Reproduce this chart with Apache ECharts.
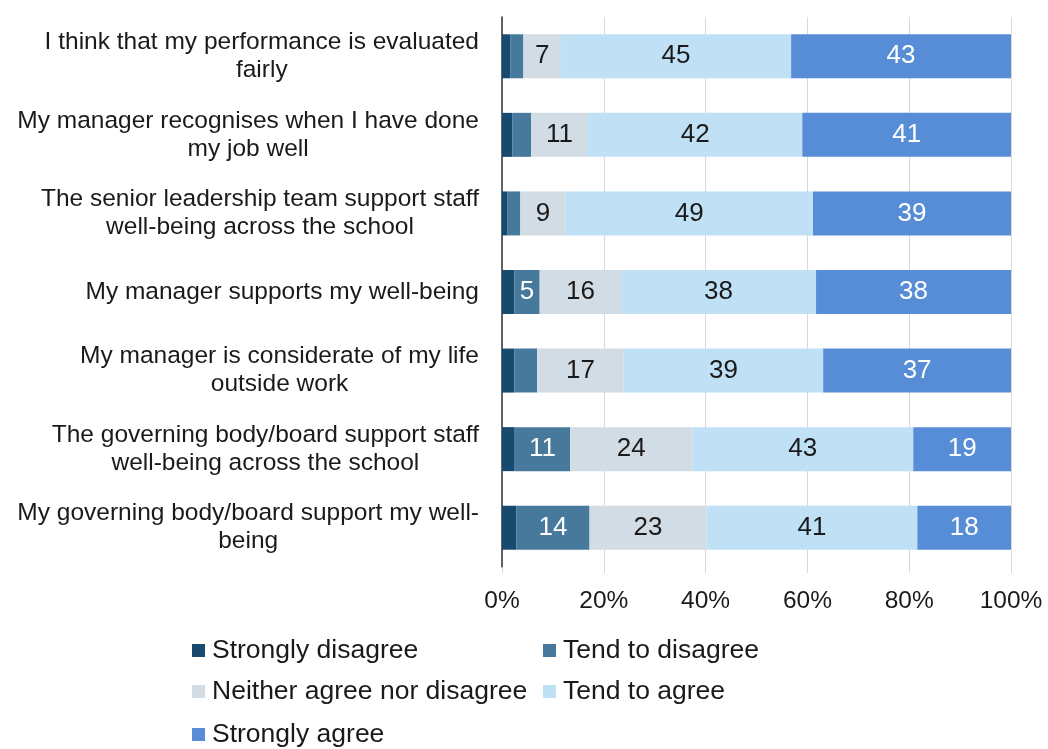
<!DOCTYPE html>
<html>
<head>
<meta charset="utf-8">
<script src="https://cdn.jsdelivr.net/npm/echarts@6/dist/echarts.min.js"></script>
<style>
html,body{margin:0;padding:0;background:#fff;}
#chart{width:1048px;height:749px;}
</style>
</head>
<body>
<div id="chart"></div>
<script>
const categories = [
  "I think that my performance is evaluated\nfairly",
  "My manager recognises when I have done\nmy job well",
  "The senior leadership team support staff\nwell-being across the school",
  "My manager supports my well-being",
  "My manager is considerate of my life\noutside work",
  "The governing body/board support staff\nwell-being across the school",
  "My governing body/board support my well-\nbeing"
];
const seriesNames = ["Strongly disagree", "Tend to disagree", "Neither agree nor disagree", "Tend to agree", "Strongly agree"];
const stronglyDisagree = [1.6, 2.0, 1.0, 2.4, 2.4, 2.5, 2.8];
const tendToDisagree   = [2.6, 3.7, 2.6, 5.0, 4.5, 10.9, 14.4];
const neither          = [7.4, 11.2, 8.9, 16.0, 17.0, 24.0, 23.0];
const tendToAgree      = [45.2, 42.1, 48.6, 38.3, 39.2, 43.4, 41.4];
const stronglyAgree    = [43.2, 41.0, 38.9, 38.3, 36.9, 19.2, 18.4];
const xTicks = [0, 20, 40, 60, 80, 100];

const colors = ["#174a6e", "#46799b", "#d2dce4", "#bfe0f5", "#568dd6"];
const labelColors = ["#ffffff", "#ffffff", "#1a1a1a", "#1a1a1a", "#ffffff"];
const allData = [stronglyDisagree, tendToDisagree, neither, tendToAgree, stronglyAgree];
const FONT = "Liberation Sans, Arial, sans-serif";

const series = seriesNames.map((name, i) => ({
  name: name,
  type: 'bar',
  stack: 'total',
  barWidth: 44,
  data: allData[i],
  itemStyle: { color: colors[i] },
  label: {
    show: true,
    position: 'inside',
    fontFamily: FONT,
    fontSize: 26,
    color: labelColors[i],
    formatter: p => (p.value >= 4.75 ? String(Math.round(p.value)) : '')
  }
}));

const legendPos = [
  {left: 192, top: 637},
  {left: 543, top: 637},
  {left: 192, top: 678},
  {left: 543, top: 678},
  {left: 192, top: 721}
];
const legends = seriesNames.map((n, i) => ({
  data: [n],
  left: legendPos[i].left,
  top: legendPos[i].top,
  icon: 'rect',
  itemWidth: 13,
  itemHeight: 13,
  itemGap: 4,
  padding: 0,
  selectedMode: false,
  textStyle: { fontFamily: FONT, fontSize: 26.5, color: '#1a1a1a', padding: [0, 0, 0, 2] }
}));

const chart = echarts.init(document.getElementById('chart'));
chart.setOption({
  animation: false,
  backgroundColor: '#fff',
  textStyle: { fontFamily: FONT },
  legend: legends,
  grid: { left: 502, right: 37, top: 17, bottom: 182, containLabel: false },
  xAxis: {
    type: 'value',
    min: xTicks[0],
    max: xTicks[xTicks.length - 1],
    interval: 20,
    axisLine: { show: false },
    axisTick: { show: true, length: 6, lineStyle: { color: '#d9d9d9' } },
    splitLine: { show: true, lineStyle: { color: '#d9d9d9', width: 1 } },
    axisLabel: { fontFamily: FONT, fontSize: 24.5, color: '#1a1a1a', margin: 22, formatter: '{value}%' }
  },
  yAxis: {
    type: 'category',
    inverse: true,
    data: categories,
    axisLine: { show: true, lineStyle: { color: '#333', width: 1.5 } },
    axisTick: { show: false },
    axisLabel: {
      fontFamily: FONT, fontSize: 24.5, color: '#1a1a1a', margin: 23, lineHeight: 28, align: 'right',
      formatter: v => v.split('\n').map(l => '{c|' + l + '}').join('\n'),
      rich: { c: { align: 'center', fontFamily: FONT, fontSize: 24.5, color: '#1a1a1a', lineHeight: 28 } }
    }
  },
  series: series
});
</script>
</body>
</html>
